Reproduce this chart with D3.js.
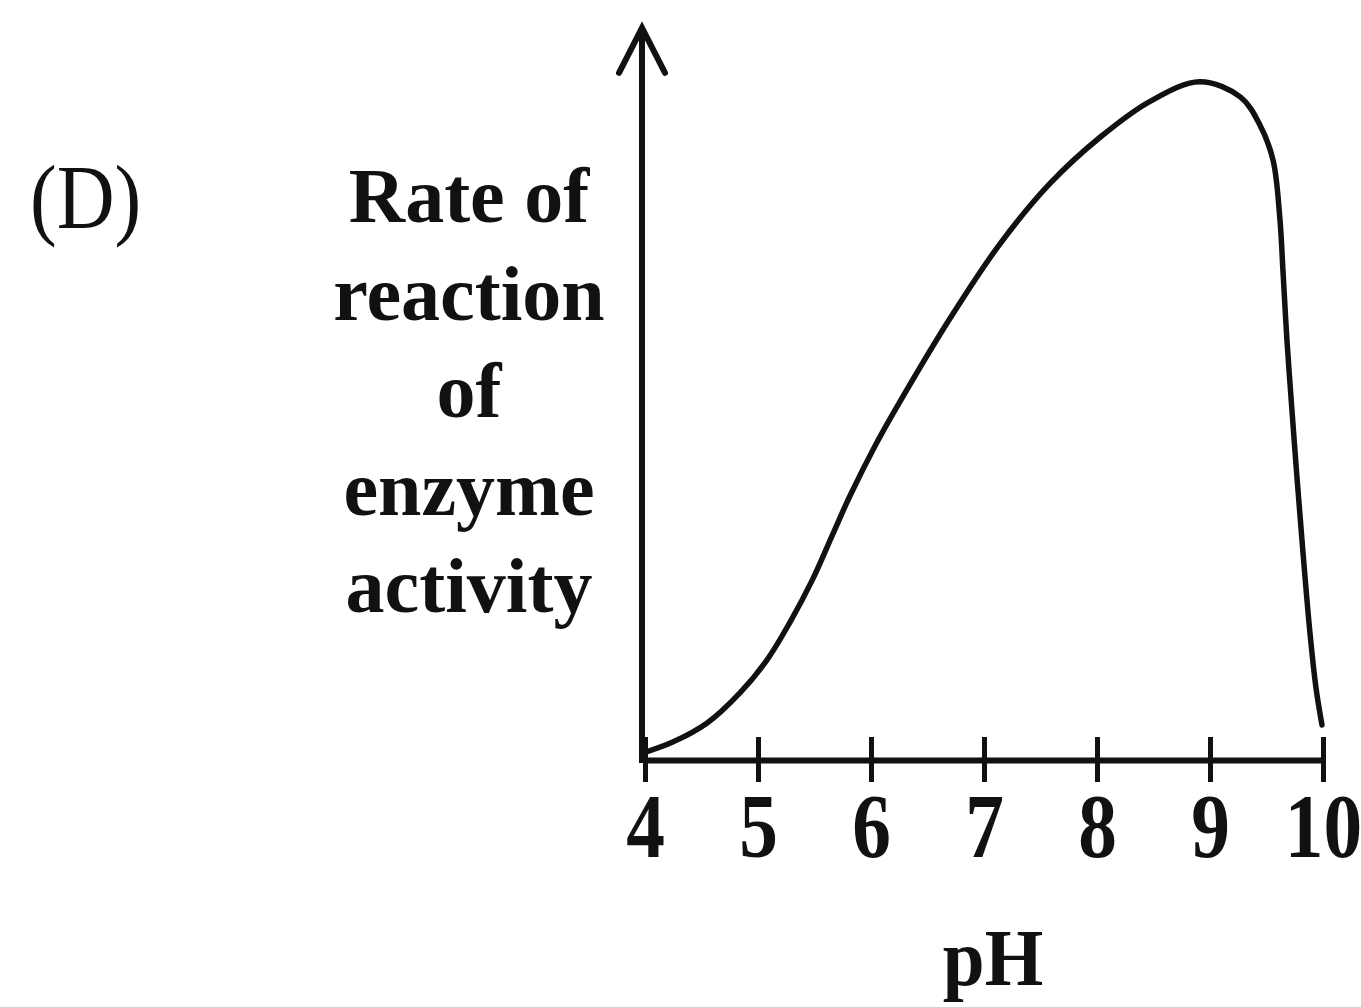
<!DOCTYPE html>
<html>
<head>
<meta charset="utf-8">
<script src="https://cdn.jsdelivr.net/npm/d3@7"></script>
<style>
  html, body { margin: 0; padding: 0; background: #fff; }
  svg { display: block; }
  text { font-family: "Liberation Serif", "Times New Roman", serif; fill: #111; }
</style>
</head>
<body>
<svg id="chart" width="1361" height="1007"></svg>
<script>
// ---- Data ----
const pHTicks = [4, 5, 6, 7, 8, 9, 10];
const pHValues = [4.00, 4.25, 4.55, 4.84, 5.08, 5.28, 5.48, 5.66, 5.81, 6.04, 6.26, 6.70, 7.14, 7.58, 8.03, 8.47, 8.91, 9.27, 9.442, 9.558, 9.619, 9.646, 9.681, 9.726, 9.770, 9.823, 9.885, 9.938, 9.991];
const rateValues = [1.1, 2.6, 5.3, 9.6, 14.3, 19.6, 25.7, 32.2, 37.6, 45.0, 51.3, 63.1, 73.7, 82.3, 89.0, 94.1, 96.9, 94.7, 90.7, 85.7, 77.2, 69.8, 60.0, 49.8, 40.3, 29.6, 18.1, 10.3, 5.0];
const yLabelLines = ["Rate of", "reaction", "of", "enzyme", "activity"];
const xLabel = "pH";
const panelLabel = "(D)";

// ---- Layout ----
const svg = d3.select("#chart");
const x = d3.scaleLinear().domain([4, 10]).range([645, 1323]);
const y = d3.scaleLinear().domain([0, 100]).range([760, 60]);
const yTop = 104.6;

// Curve
const pts = pHValues.map((p, i) => [p, rateValues[i]]);
svg.append("path")
  .datum(pts)
  .attr("fill", "none")
  .attr("stroke", "#111")
  .attr("stroke-width", 5.5)
  .attr("stroke-linecap", "round")
  .attr("stroke-linejoin", "round")
  .attr("d", d3.line().x(d => x(d[0])).y(d => y(d[1])).curve(d3.curveCatmullRom.alpha(0.5)));

// X axis
const xAxis = d3.axisBottom(x).tickValues(pHTicks).tickFormat(d3.format("d")).tickSizeOuter(0).tickSizeInner(0);
const gx = svg.append("g").attr("transform", `translate(0,${y(0)})`).call(xAxis);
gx.select(".domain").attr("stroke", "#111").attr("stroke-width", 6);
gx.selectAll(".tick line").attr("y1", -23).attr("y2", 22).attr("stroke", "#111").attr("stroke-width", 5);
gx.selectAll(".tick text")
  .attr("y", 97).attr("dy", null)
  .attr("transform", "scale(0.86,1)")
  .attr("font-size", 90).attr("font-weight", "bold")
  .attr("font-family", "'Liberation Serif', serif")
  .attr("fill", "#111");

// Y axis (arrow)
const yAxisX = x(4) - 3;
svg.append("line")
  .attr("x1", yAxisX).attr("x2", yAxisX)
  .attr("y1", y(0) + 3).attr("y2", y(yTop))
  .attr("stroke", "#111").attr("stroke-width", 6);
svg.append("path")
  .attr("d", `M${yAxisX - 23},${y(yTop) + 45} L${yAxisX},${y(yTop)} L${yAxisX + 23},${y(yTop) + 45}`)
  .attr("fill", "none").attr("stroke", "#111").attr("stroke-width", 6)
  .attr("stroke-linejoin", "miter").attr("stroke-linecap", "round");

// Y label
const yl = svg.append("text").attr("text-anchor", "middle").attr("font-size", 78).attr("font-weight", "bold");
yLabelLines.forEach((t, i) => {
  yl.append("tspan").attr("x", 469).attr("y", 222 + i * 97.5).text(t);
});

// X label
svg.append("text")
  .attr("transform", "translate(993,985) scale(0.94,1)")
  .attr("text-anchor", "middle")
  .attr("font-size", 80).attr("font-weight", "bold").text(xLabel);

// Panel label
svg.append("text")
  .attr("transform", "translate(30,228) scale(0.89,1)")
  .attr("font-size", 90).text(panelLabel);
</script>
</body>
</html>
